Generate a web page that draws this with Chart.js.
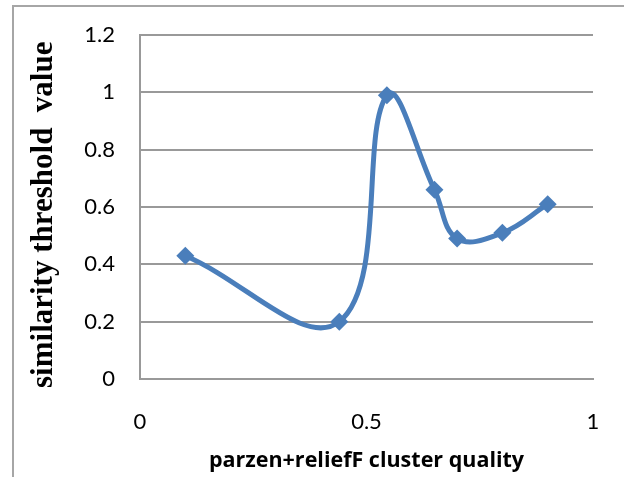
<!DOCTYPE html>
<html>
<head>
<meta charset="utf-8">
<script src="https://cdn.jsdelivr.net/npm/chart.js@4"></script>
<style>
html, body { margin: 0; padding: 0; background: #fff; overflow: hidden; }
#wrap { position: relative; width: 624px; height: 477px; }
#frame { position: absolute; left: 12px; top: 5px; width: 700px; height: 600px;
         border-left: 2px solid #a6a6a6; border-top: 2px solid #a6a6a6; }
canvas { position: absolute; left: 0; top: 0; }
</style>
</head>
<body>
<div id="wrap">
  <div id="frame"></div>
  <canvas id="myChart" width="624" height="477"></canvas>
</div>
<script>
// values
var clusterQuality = [0.1, 0.44, 0.545, 0.65, 0.7, 0.8, 0.9];
var thresholdValue = [0.43, 0.2, 0.99, 0.66, 0.49, 0.51, 0.61];
var xTicks = [0, 0.5, 1];
var yTicks = [0, 0.2, 0.4, 0.6, 0.8, 1, 1.2];

var points = [];
for (var i = 0; i < clusterQuality.length; i++) {
    points.push({x: clusterQuality[i], y: thresholdValue[i]});
}

var blue = "#4a7ebb";
var gridGray = "#999999";

function plainLabel(v) {
    return String(Math.round(v * 10) / 10);
}

var ctx = document.getElementById("myChart");
var myChart = new Chart(ctx, {
    type: 'line',
    data: {
        datasets: [{
            data: points,
            borderColor: blue,
            backgroundColor: blue,
            borderWidth: 5,
            tension: 0.4,
            fill: false,
            pointStyle: 'rectRot',
            pointRadius: 9,
            pointBorderWidth: 0,
            pointBackgroundColor: blue
        }]
    },
    options: {
        responsive: false,
        animation: false,
        layout: { padding: { top: 35, right: 31, bottom: 0, left: 0 } },
        plugins: {
            legend: { display: false },
            tooltip: { enabled: false }
        },
        scales: {
            x: {
                type: 'linear',
                min: 0,
                max: 1,
                afterBuildTicks: function(scale) {
                    scale.ticks = xTicks.map(function(v) { return {value: v}; });
                },
                // fixed box so the plot area lands where the original one is
                afterFit: function(scale) {
                    scale.height = 98;
                    scale.paddingLeft = 0;
                    scale.paddingRight = 0;
                },
                grid: { display: false, drawTicks: false },
                border: { display: true, color: gridGray, width: 2 },
                ticks: {
                    padding: 30,
                    maxRotation: 0,
                    color: "#000",
                    font: { family: "Lato", size: 22 },
                    callback: plainLabel
                },
                title: {
                    display: true,
                    text: "parzen+reliefF cluster quality",
                    color: "#000",
                    font: { family: "Open Sans", size: 21.5, weight: "bold" },
                    padding: { top: 0, bottom: 3 }
                }
            },
            y: {
                min: 0,
                max: 1.2,
                afterBuildTicks: function(scale) {
                    scale.ticks = yTicks.map(function(v) { return {value: v}; });
                },
                afterFit: function(scale) {
                    scale.width = 140;
                    scale.paddingTop = 0;
                    scale.paddingBottom = 0;
                },
                grid: { color: gridGray, lineWidth: 2, drawTicks: false },
                border: { display: true, color: gridGray, width: 2 },
                ticks: {
                    padding: 25,
                    color: "#000",
                    font: { family: "Lato", size: 22 },
                    callback: plainLabel
                },
                title: {
                    display: true,
                    text: "similarity threshold  value  ",
                    color: "#000",
                    font: { family: "Liberation Serif", size: 31, weight: "bold" },
                    padding: { top: 25, bottom: 0 }
                }
            }
        }
    }
});
</script>
</body>
</html>
